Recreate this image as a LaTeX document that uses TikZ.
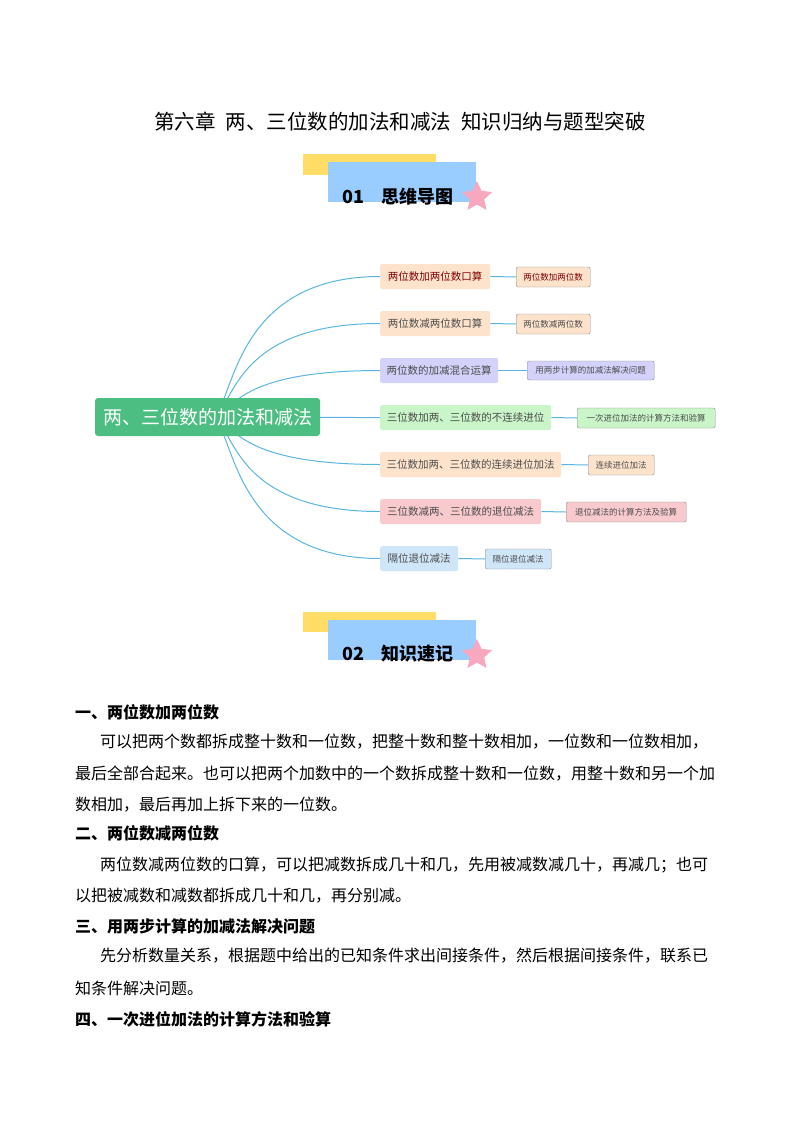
\documentclass[tikz,border=0pt]{standalone}
\usepackage{fontspec}
\setmainfont{Noto Sans CJK SC}
\usetikzlibrary{shapes.geometric}
\definecolor{lnc}{HTML}{5AB4E0}
\definecolor{rootg}{HTML}{4DBE82}
\definecolor{peach}{HTML}{FDE3CC}
\definecolor{lav}{HTML}{D2D2FA}
\definecolor{lgreen}{HTML}{C9F5C9}
\definecolor{pinkb}{HTML}{F8CACE}
\definecolor{lblue}{HTML}{CFE5F8}
\definecolor{hyel}{HTML}{FFDD66}
\definecolor{hblue}{HTML}{99CCFF}
\definecolor{starp}{HTML}{F7A8BE}
\tikzset{
 br/.style={rounded corners=2pt,inner sep=0pt,anchor=west,font=\fontsize{10.5}{12}\selectfont,text=black!70},
 ch/.style={rounded corners=2pt,draw=black!45,inner sep=0pt,anchor=west,font=\fontsize{8.5}{10}\selectfont,text=black!70},
 cn/.style={draw=lnc,line width=1pt},
 body/.style={anchor=west,inner sep=0pt,font=\fontsize{16}{18}\selectfont},
 head/.style={anchor=west,inner sep=0pt,font=\fontsize{16}{18}\selectfont\bfseries},
}
\begin{document}
\begin{tikzpicture}[x=1pt,y=-1pt]
\useasboundingbox (0,0) rectangle (800,1132);
\node[inner sep=0pt,font=\fontsize{20.5}{22}\selectfont] (title) at (400,122) {第六章\hspace{10pt}两、三位数的加法和减法\hspace{10pt}知识归纳与题型突破};
% header 1
\fill[hyel] (303,154) rectangle (436,175);
\fill[hblue] (328,162) rectangle (476,202);
\node[inner sep=0pt,font=\fontsize{18}{20}\selectfont\bfseries] (h1) at (398,197) {01\quad 思维导图};
\node[star,star points=5,star point ratio=2.1,fill=starp,minimum size=32pt,inner sep=0pt] (s1) at (477,197) {};
% header 2
\fill[hyel] (303,612) rectangle (436,632);
\fill[hblue] (328,620) rectangle (476,660);
\node[inner sep=0pt,font=\fontsize{18}{20}\selectfont\bfseries] (h2) at (398,654) {02\quad 知识速记};
\node[star,star points=5,star point ratio=2.1,fill=starp,minimum size=32pt,inner sep=0pt] (s2) at (477,655) {};
% mind map
\coordinate (o) at (210,417);
\foreach \i/\y in {1/276.5,2/323.5,3/370.5,4/417.5,5/464.5,6/511.5,7/558.5}{
 \draw[cn] (o) .. controls (235,417) and (225,\y) .. (380,\y);
}
\node[fill=rootg,rounded corners=3pt,minimum width=225pt,minimum height=38pt,text=white,font=\fontsize{19}{21}\selectfont] (root) at (207.5,417) {两、三位数的加法和减法};
\node[br,fill=peach,minimum width=110pt,minimum height=25pt,text=red!50!black] (b1) at (380,276.5) {两位数加两位数口算};
\node[br,fill=peach,minimum width=110pt,minimum height=25pt] (b2) at (380,323.5) {两位数减两位数口算};
\node[br,fill=lav,minimum width=118pt,minimum height=25pt] (b3) at (380,370.5) {两位数的加减混合运算};
\node[br,fill=lgreen,minimum width=171pt,minimum height=25pt] (b4) at (380,417.5) {三位数加两、三位数的不连续进位};
\node[br,fill=peach,minimum width=181pt,minimum height=25pt] (b5) at (380,464.5) {三位数加两、三位数的连续进位加法};
\node[br,fill=pinkb,minimum width=161pt,minimum height=25pt] (b6) at (380,511.5) {三位数减两、三位数的退位减法};
\node[br,fill=lblue,minimum width=78pt,minimum height=25pt] (b7) at (380,558.5) {隔位退位减法};
\node[ch,fill=peach,minimum width=74pt,minimum height=20pt,text=red!50!black] (c1) at (516,277) {两位数加两位数};
\node[ch,fill=peach,minimum width=74pt,minimum height=20pt] (c2) at (516,324) {两位数减两位数};
\node[ch,fill=lav,minimum width=127pt,minimum height=19pt] (c3) at (527,370.5) {用两步计算的加减法解决问题};
\node[ch,fill=lgreen,minimum width=138pt,minimum height=20pt] (c4) at (577,418) {一次进位加法的计算方法和验算};
\node[ch,fill=peach,minimum width=66pt,minimum height=20pt] (c5) at (588,465) {连续进位加法};
\node[ch,fill=pinkb,minimum width=120pt,minimum height=20pt] (c6) at (566,512) {退位减法的计算方法及验算};
\node[ch,fill=lblue,minimum width=66pt,minimum height=20pt] (c7) at (485,559) {隔位退位减法};
\foreach \i in {1,...,7}{\draw[cn] (b\i.east) -- (c\i.west);}
% text
\node[head] (t1) at (75,712) {一、两位数加两位数};
\node[body] (l1) at (100,742) {可以把两个数都拆成整十数和一位数，把整十数和整十数相加，一位数和一位数相加，};
\node[body] (l2) at (75,774) {最后全部合起来。也可以把两个加数中的一个数拆成整十数和一位数，用整十数和另一个加};
\node[body] (l3) at (75,805) {数相加，最后再加上拆下来的一位数。};
\node[head] (t2) at (75,833) {二、两位数减两位数};
\node[body] (l4) at (100,865) {两位数减两位数的口算，可以把减数拆成几十和几，先用被减数减几十，再减几；也可};
\node[body] (l5) at (75,896) {以把被减数和减数都拆成几十和几，再分别减。};
\node[head] (t3) at (75,926) {三、用两步计算的加减法解决问题};
\node[body] (l6) at (100,956) {先分析数量关系，根据题中给出的已知条件求出间接条件，然后根据间接条件，联系已};
\node[body] (l7) at (75,988) {知条件解决问题。};
\node[head] (t4) at (75,1019) {四、一次进位加法的计算方法和验算};
\end{tikzpicture}
\end{document}
